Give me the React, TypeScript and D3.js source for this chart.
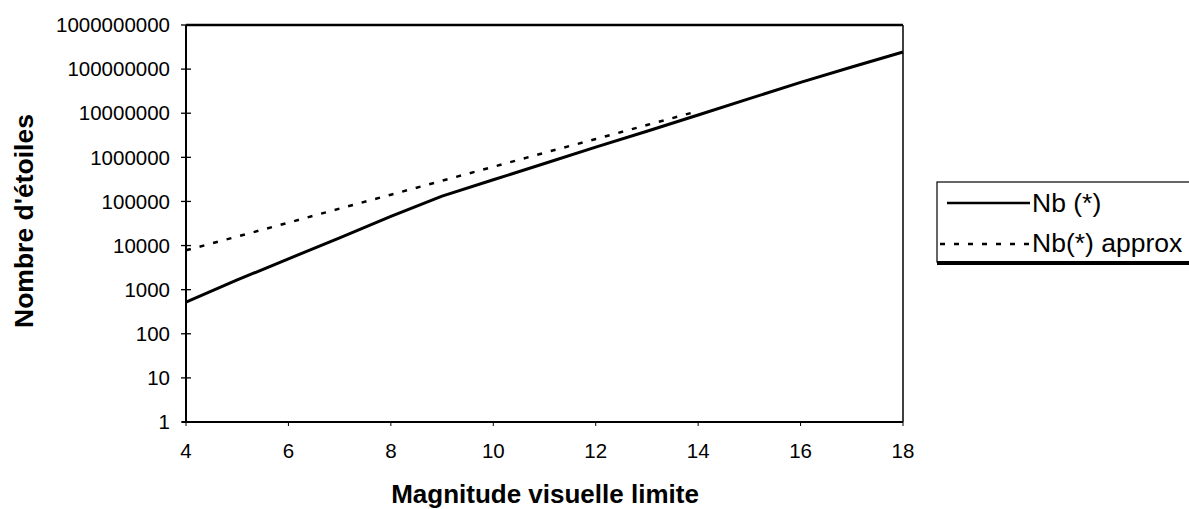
import React from "react";
import * as d3 from "d3";

const magnitudes = [4, 5, 6, 7, 8, 9, 10, 11, 12, 13, 14, 15, 16, 17, 18];
const nbStars = [525, 1660, 5000, 15000, 46000, 132000, 310000, 725000, 1700000, 3900000, 9100000, 21400000, 50000000, 112000000, 245000000];
const approxMagnitudes = [4, 5, 6, 7, 8, 9, 10, 11, 12, 13, 14];
const nbApprox = [7800, 16000, 33000, 69000, 142000, 295000, 610000, 1270000, 2600000, 5400000, 11200000];
const xTicks = [4, 6, 8, 10, 12, 14, 16, 18];
const yTicks = [1, 10, 100, 1000, 10000, 100000, 1000000, 10000000, 100000000, 1000000000];
const seriesNames = ["Nb (*)", "Nb(*) approx"];
const xTitle = "Magnitude visuelle limite";
const yTitle = "Nombre d'étoiles";

export default function App() {
  const W = 1189, H = 509;
  const left = 186, right = 903, top = 25, bottom = 422;
  const x = d3.scaleLinear().domain([4, 18]).range([left, right]);
  const y = d3.scaleLog().domain([1, 1e9]).range([bottom, top]);
  const solid = d3.line<number>().x((_, i) => x(magnitudes[i])).y((d) => y(d))(nbStars) || "";
  const dotted = d3.line<number>().x((_, i) => x(approxMagnitudes[i])).y((d) => y(d))(nbApprox) || "";
  const font = "'Liberation Sans', Arial, sans-serif";
  return (
    <svg width={W} height={H} style={{ position: "absolute", left: 0, top: 0, background: "#fff" }} fontFamily={font}>
      <rect x={0} y={0} width={W} height={H} fill="#fff" />
      {/* frame */}
      <line x1={left} x2={right} y1={top} y2={top} stroke="#000" strokeWidth={2.5} />
      <line x1={right} x2={right} y1={top} y2={bottom} stroke="#000" strokeWidth={1.5} />
      <line x1={left} x2={left} y1={top} y2={bottom} stroke="#000" strokeWidth={2} />
      <line x1={left - 4} x2={right} y1={bottom} y2={bottom} stroke="#000" strokeWidth={2} />
      {/* y ticks */}
      {yTicks.map((t) => (
        <g key={t}>
          <line x1={left - 5} x2={left + 5} y1={y(t)} y2={y(t)} stroke="#000" strokeWidth={1.3} />
          <text x={170} y={y(t)} dy="0.35em" textAnchor="end" fontSize={20.5} fill="#000">{String(t)}</text>
        </g>
      ))}
      {/* x ticks */}
      {xTicks.map((t) => (
        <g key={t}>
          <line x1={x(t)} x2={x(t)} y1={bottom} y2={bottom + 4} stroke="#000" strokeWidth={1} />
          <text x={x(t)} y={458} textAnchor="middle" fontSize={20.5} fill="#000">{String(t)}</text>
        </g>
      ))}
      {/* series */}
      <path d={dotted} fill="none" stroke="#000" strokeWidth={2.5} strokeDasharray="5,9" />
      <path d={solid} fill="none" stroke="#000" strokeWidth={3} strokeLinejoin="round" />
      {/* titles */}
      <text x={545} y={503} textAnchor="middle" fontSize={26} fontWeight="bold" fill="#000">{xTitle}</text>
      <text transform={`translate(33,221) rotate(-90)`} textAnchor="middle" fontSize={26.5} fontWeight="bold" fill="#000">{yTitle}</text>
      {/* legend */}
      <rect x={937} y={182} width={270} height={80} fill="#fff" stroke="#000" strokeWidth={1.2} />
      <rect x={937} y={261} width={270} height={4} fill="#000" />
      <line x1={947} x2={1030} y1={203} y2={203} stroke="#000" strokeWidth={2.5} />
      <text x={1032} y={212} fontSize={26.5} fill="#000">{seriesNames[0]}</text>
      <line x1={940} x2={1030} y1={244} y2={244} stroke="#000" strokeWidth={2.5} strokeDasharray="5,9" />
      <text x={1032} y={252} fontSize={26.5} fill="#000">{seriesNames[1]}</text>
    </svg>
  );
}
